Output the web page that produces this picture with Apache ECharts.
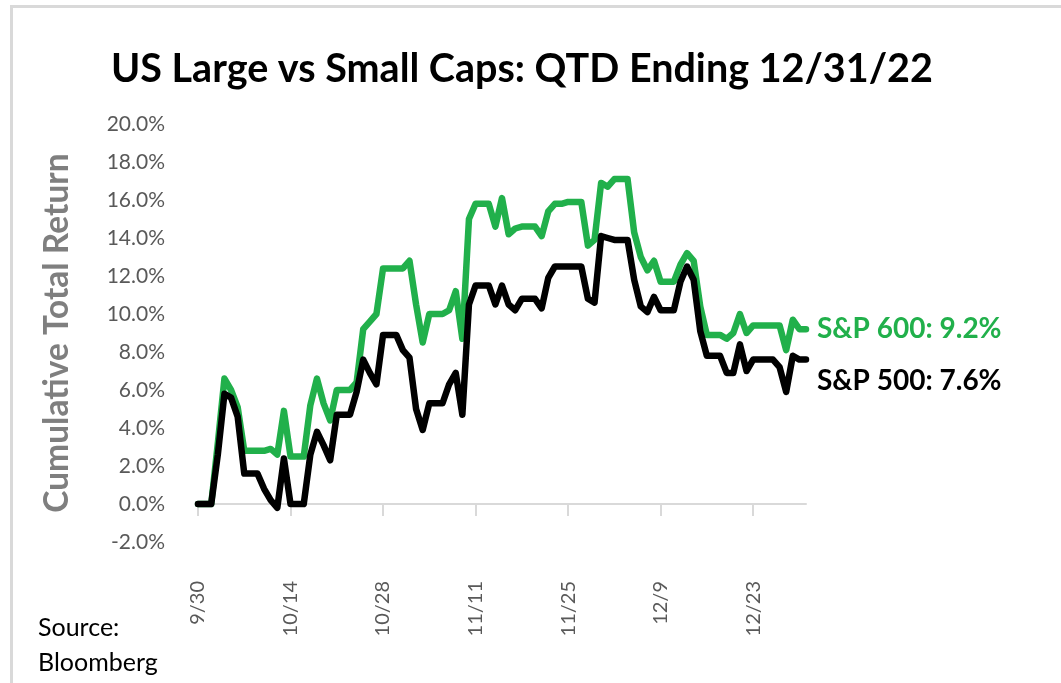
<!DOCTYPE html>
<html>
<head>
<meta charset="utf-8">
<title>US Large vs Small Caps</title>
<script src="https://cdn.jsdelivr.net/npm/echarts@6/dist/echarts.min.js"></script>
<style>
  html, body { margin: 0; padding: 0; background: #fff; }
  #chart { width: 1061px; height: 683px; }
</style>
</head>
<body>
<div id="chart"></div>
<script>
// calendar days of the quarter, weekends/holidays carry the last close
var dates = [
  '9/30', '10/1', '10/2', '10/3', '10/4', '10/5', '10/6', '10/7', '10/8', '10/9',
  '10/10', '10/11', '10/12', '10/13', '10/14', '10/15', '10/16', '10/17', '10/18', '10/19',
  '10/20', '10/21', '10/22', '10/23', '10/24', '10/25', '10/26', '10/27', '10/28', '10/29',
  '10/30', '10/31', '11/1', '11/2', '11/3', '11/4', '11/5', '11/6', '11/7', '11/8',
  '11/9', '11/10', '11/11', '11/12', '11/13', '11/14', '11/15', '11/16', '11/17', '11/18',
  '11/19', '11/20', '11/21', '11/22', '11/23', '11/24', '11/25', '11/26', '11/27', '11/28',
  '11/29', '11/30', '12/1', '12/2', '12/3', '12/4', '12/5', '12/6', '12/7', '12/8',
  '12/9', '12/10', '12/11', '12/12', '12/13', '12/14', '12/15', '12/16', '12/17', '12/18',
  '12/19', '12/20', '12/21', '12/22', '12/23', '12/24', '12/25', '12/26', '12/27', '12/28',
  '12/29', '12/30', '12/31'
]

// S&P 600 cumulative total return (%)
var sp600 = [
  0, 0, 0, 3.2, 6.6, 6.0, 5.1, 2.8, 2.8, 2.8,
  2.8, 2.9, 2.6, 4.9, 2.5, 2.5, 2.5, 5.2, 6.6, 5.3,
  4.4, 6.0, 6.0, 6.0, 6.4, 9.2, 9.6, 10.0, 12.4, 12.4,
  12.4, 12.4, 12.8, 10.5, 8.5, 10.0, 10.0, 10.0, 10.2, 11.2,
  8.7, 15.0, 15.8, 15.8, 15.8, 14.6, 16.1, 14.2, 14.5, 14.6,
  14.6, 14.6, 14.1, 15.4, 15.8, 15.8, 15.9, 15.9, 15.9, 13.6,
  13.9, 16.9, 16.7, 17.1, 17.1, 17.1, 14.3, 13.0, 12.3, 12.8,
  11.7, 11.7, 11.7, 12.6, 13.2, 12.8, 10.4, 8.9, 8.9, 8.9,
  8.7, 9.0, 10.0, 9.0, 9.4, 9.4, 9.4, 9.4, 9.4, 8.1,
  9.7, 9.2, 9.2
]

// S&P 500 cumulative total return (%)
var sp500 = [
  0, 0, 0, 2.6, 5.8, 5.6, 4.6, 1.6, 1.6, 1.6,
  0.8, 0.2, -0.2, 2.4, 0.0, 0.0, 0.0, 2.6, 3.8, 3.1,
  2.3, 4.7, 4.7, 4.7, 5.9, 7.6, 6.9, 6.3, 8.9, 8.9,
  8.9, 8.1, 7.7, 5.0, 3.9, 5.3, 5.3, 5.3, 6.3, 6.9,
  4.7, 10.5, 11.5, 11.5, 11.5, 10.5, 11.5, 10.5, 10.2, 10.8,
  10.8, 10.8, 10.3, 11.9, 12.5, 12.5, 12.5, 12.5, 12.5, 10.8,
  10.6, 14.1, 14.0, 13.9, 13.9, 13.9, 11.8, 10.4, 10.1, 10.9,
  10.2, 10.2, 10.2, 11.7, 12.5, 11.8, 9.1, 7.8, 7.8, 7.8,
  6.9, 6.9, 8.4, 7.0, 7.6, 7.6, 7.6, 7.6, 7.2, 5.9,
  7.8, 7.6, 7.6
]

var seriesNames = ['S&P 600', 'S&P 500']
var seriesColors = ['#21b04b', '#000000']

var font = 'Lato, Carlito, "Liberation Sans", sans-serif'

var myChart = echarts.init(document.getElementById('chart'))

// end-of-line label, e.g. "S&P 600: 9.2%"
function endLabel(color, offsetY) {
  return {
    show: true,
    distance: 11,
    offset: [0, offsetY],
    color: color,
    fontSize: 28,
    fontWeight: 'bold',
    fontFamily: font,
    formatter: function (p) {
      return p.seriesName + ': ' + p.value.toFixed(1) + '%'
    }
  }
}

var option = {
  animation: false,
  backgroundColor: '#fff',
  textStyle: { fontFamily: font },
  title: {
    text: 'US Large vs Small Caps: QTD Ending 12/31/22',
    left: 106,
    top: 44,
    textStyle: {
      color: '#000',
      fontSize: 39.5,
      fontWeight: 'bold',
      fontFamily: font
    }
  },
  grid: {
    left: 198,
    right: 255,
    top: 124,
    bottom: 141
  },
  xAxis: {
    type: 'category',
    boundaryGap: false,
    data: dates,
    axisLine: {
      onZero: true,
      lineStyle: { color: '#d9d9d9', width: 2 }
    },
    axisTick: {
      show: true,
      interval: 13,
      length: 12,
      lineStyle: { color: '#d9d9d9', width: 2 }
    },
    axisLabel: {
      interval: 13,
      rotate: 90,
      margin: 39,
      color: '#595959',
      fontSize: 20,
      fontFamily: font
    },
    splitLine: { show: false }
  },
  yAxis: {
    type: 'value',
    min: -2,
    max: 20,
    interval: 2,
    name: 'Cumulative Total Return',
    nameLocation: 'middle',
    nameGap: 124,
    nameTextStyle: {
      color: '#7f7f7f',
      fontSize: 33.5,
      fontWeight: 'bold',
      fontFamily: font
    },
    axisLine: { show: false },
    axisTick: { show: false },
    splitLine: { show: false },
    axisLabel: {
      margin: 33,
      color: '#595959',
      fontSize: 21,
      fontFamily: font,
      formatter: function (v) {
        return v.toFixed(1) + '%'
      }
    }
  },
  series: [
    {
      name: seriesNames[0],
      type: 'line',
      data: sp600,
      symbol: 'none',
      lineStyle: { color: seriesColors[0], width: 6.5, join: 'round', cap: 'round' },
      endLabel: endLabel(seriesColors[0], 0)
    },
    {
      name: seriesNames[1],
      type: 'line',
      data: sp500,
      symbol: 'none',
      lineStyle: { color: seriesColors[1], width: 6.5, join: 'round', cap: 'round' },
      endLabel: endLabel(seriesColors[1], 21)
    }
  ],
  graphic: [
    // light frame round the chart
    {
      type: 'rect',
      left: 9,
      top: 4,
      shape: { width: 1100, height: 720 },
      style: { fill: 'none', stroke: '#d9d9d9', lineWidth: 3 },
      silent: true
    },
    {
      type: 'text',
      left: 38,
      top: 610,
      style: {
        text: 'Source:\nBloomberg',
        fill: '#000',
        font: '25px ' + font,
        lineHeight: 35
      }
    }
  ]
}

myChart.setOption(option)
</script>
</body>
</html>
